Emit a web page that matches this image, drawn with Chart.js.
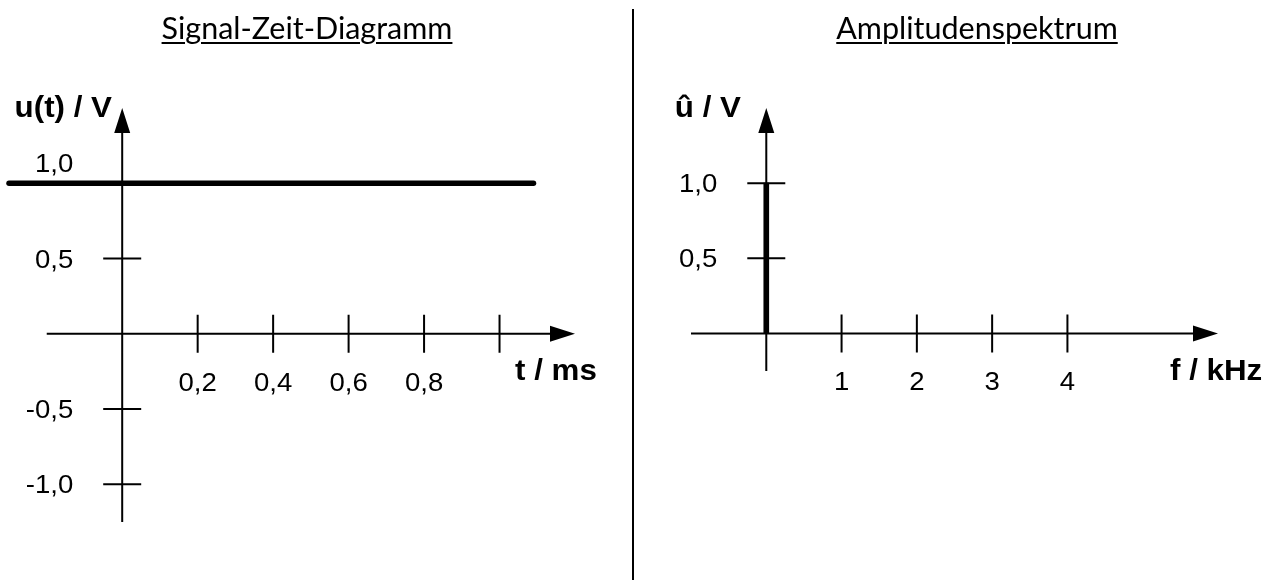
<!DOCTYPE html>
<html lang="de">
<head>
<meta charset="utf-8">
<title>Signal-Zeit-Diagramm / Amplitudenspektrum</title>
<script src="https://cdn.jsdelivr.net/npm/chart.js@4.4.1/dist/chart.umd.min.js"></script>
<style>
  html, body { margin: 0; padding: 0; background: #fff; }
  #wrap { position: relative; width: 1276px; height: 581px; overflow: hidden; }
  canvas { position: absolute; top: 0; }
  #leftChart { left: 0; }
  #rightChart { left: 633px; }
  .title {
    position: absolute; top: 12px; transform: translateX(-50%);
    font-family: Lato, "Open Sans", sans-serif; font-weight: 400; font-size: 30.5px;
    line-height: 30px; white-space: nowrap; color: #000;
    text-decoration: underline; text-decoration-thickness: 2px; text-underline-offset: 3px;
  }
  #divider { position: absolute; left: 632px; top: 9px; width: 2px; height: 571px; background: #000; }
</style>
</head>
<body>
<div id="wrap">
  <canvas id="leftChart" width="633" height="581"></canvas>
  <canvas id="rightChart" width="643" height="581"></canvas>
  <div class="title" style="left:307px">Signal-Zeit-Diagramm</div>
  <div class="title" style="left:977px">Amplitudenspektrum</div>
  <div id="divider"></div>
</div>
<script>
// Signal: Gleichspannung 1,0 V
const timeMs = [-0.3, 1.09];
const signalV = [1.0, 1.0];

// Spektrum: nur Anteil bei f = 0
const freqKHz = [0];
const amplV = [1.0];

// Achsenteilung
const timeTicks = [0.2, 0.4, 0.6, 0.8, 1.0];
const timeTickLabels = ['0,2', '0,4', '0,6', '0,8', ''];
const voltTicksLeft = [1.0, 0.5, 0, -0.5, -1.0];
const voltLabelsLeft = ['1,0', '0,5', '', '-0,5', '-1,0'];
const freqTicks = [1, 2, 3, 4];
const freqTickLabels = ['1', '2', '3', '4'];
const voltTicksRight = [1.0, 0.5];
const voltLabelsRight = ['1,0', '0,5'];

const LABEL_FONT = '25.5px "Liberation Sans", Arial, sans-serif';
const TITLE_FONT = 'bold 29px "Liberation Sans", Arial, sans-serif';

function wideText(ctx, text, x, y, align) {
  ctx.save();
  ctx.translate(x, y);
  ctx.scale(1.08, 1);
  ctx.textAlign = align;
  ctx.textBaseline = 'alphabetic';
  ctx.fillText(text, 0, 0);
  ctx.restore();
}

// Achsenkreuz mit Pfeilen, Strichen und Beschriftung
const axesCross = {
  id: 'axesCross',
  beforeDatasetsDraw(chart, args, o) {
    const ctx = chart.ctx;
    const xs = chart.scales.x, ys = chart.scales.y;
    const x0 = xs.getPixelForValue(0), y0 = ys.getPixelForValue(0);
    const right = xs.getPixelForValue(xs.max);
    const top = ys.getPixelForValue(ys.max), bottom = ys.getPixelForValue(ys.min);
    const head = 25, half = 8, tick = 19;

    ctx.save();
    ctx.strokeStyle = '#000';
    ctx.fillStyle = '#000';
    ctx.lineWidth = 2;
    ctx.beginPath();
    ctx.moveTo(xs.getPixelForValue(o.xStart), y0);
    ctx.lineTo(right - head + 1, y0);
    ctx.moveTo(x0, bottom);
    ctx.lineTo(x0, top + head - 1);
    o.xTicks.forEach(v => {
      const px = xs.getPixelForValue(v);
      ctx.moveTo(px, y0 - tick); ctx.lineTo(px, y0 + tick);
    });
    o.yTicks.forEach(v => {
      const py = ys.getPixelForValue(v);
      ctx.moveTo(x0 - tick, py); ctx.lineTo(x0 + tick, py);
    });
    ctx.stroke();

    ctx.beginPath();
    ctx.moveTo(right, y0); ctx.lineTo(right - head, y0 - half); ctx.lineTo(right - head, y0 + half); ctx.closePath();
    ctx.moveTo(x0, top); ctx.lineTo(x0 - half, top + head); ctx.lineTo(x0 + half, top + head); ctx.closePath();
    ctx.fill();

    ctx.font = LABEL_FONT;
    o.xTicks.forEach((v, i) => {
      if (o.xLabels[i]) wideText(ctx, o.xLabels[i], xs.getPixelForValue(v), y0 + 57, 'center');
    });
    o.yTicks.forEach((v, i) => {
      if (o.yLabels[i]) wideText(ctx, o.yLabels[i], x0 - 49, ys.getPixelForValue(v) + 9 + o.yLabelDy(v), 'right');
    });

    ctx.font = TITLE_FONT;
    wideText(ctx, o.yTitle.text, o.yTitle.x, o.yTitle.y, o.yTitle.align);
    wideText(ctx, o.xTitle.text, o.xTitle.x, o.xTitle.y, o.xTitle.align);
    ctx.restore();
  }
};

new Chart(document.getElementById('leftChart'), {
  type: 'line',
  data: {
    datasets: [{
      data: timeMs.map((t, i) => ({ x: t, y: signalV[i] })),
      borderColor: '#000',
      borderWidth: 5.5,
      borderCapStyle: 'round',
      pointRadius: 0,
      clip: false
    }]
  },
  options: {
    responsive: false,
    animation: false,
    layout: { padding: { left: 9, right: 58, top: 108, bottom: 59 } },
    scales: {
      x: { type: 'linear', min: -0.3, max: 1.2, display: false },
      y: { type: 'linear', min: -1.25, max: 1.5, display: false }
    },
    plugins: {
      legend: { display: false },
      tooltip: { enabled: false },
      axesCross: {
        xStart: -0.2,
        xTicks: timeTicks, xLabels: timeTickLabels,
        yTicks: voltTicksLeft, yLabels: voltLabelsLeft,
        yLabelDy: v => (v === 1 ? -20 : 0),
        yTitle: { text: 'u(t) / V', x: 112, y: 117, align: 'right' },
        xTitle: { text: 't / ms', x: 515, y: 380, align: 'left' }
      }
    }
  },
  plugins: [axesCross]
});

new Chart(document.getElementById('rightChart'), {
  type: 'bar',
  data: {
    datasets: [{
      data: freqKHz.map((f, i) => ({ x: f, y: amplV[i] })),
      backgroundColor: '#000',
      borderWidth: 0,
      barThickness: 5
    }]
  },
  options: {
    responsive: false,
    animation: false,
    layout: { padding: { left: 58, right: 58, top: 108, bottom: 210 } },
    scales: {
      x: { type: 'linear', min: -1, max: 6, offset: false, grid: { offset: false }, display: false },
      y: { type: 'linear', min: -0.25, max: 1.5, display: false }
    },
    plugins: {
      legend: { display: false },
      tooltip: { enabled: false },
      axesCross: {
        xStart: -1,
        xTicks: freqTicks, xLabels: freqTickLabels,
        yTicks: voltTicksRight, yLabels: voltLabelsRight,
        yLabelDy: () => 0,
        yTitle: { text: 'û / V', x: 108, y: 117, align: 'right' },
        xTitle: { text: 'f / kHz', x: 537, y: 380, align: 'left' }
      }
    }
  },
  plugins: [axesCross]
});
</script>
</body>
</html>
